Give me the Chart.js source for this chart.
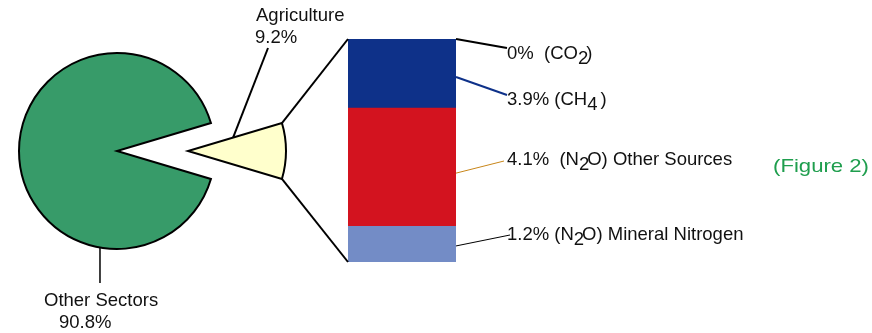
<!DOCTYPE html>
<html>
<head>
<meta charset="utf-8">
<script src="https://cdn.jsdelivr.net/npm/chart.js@4.4.1/dist/chart.umd.min.js"></script>
<style>
  html, body { margin: 0; padding: 0; background: #fff; }
  #wrap { position: relative; width: 872px; height: 333px; }
  #wrap canvas { position: absolute; left: 0; top: 0; }
</style>
</head>
<body>
<div id="wrap">
  <canvas id="pieRest" width="872" height="333"></canvas>
  <canvas id="pieAgri" width="872" height="333"></canvas>
  <canvas id="bar" width="872" height="333"></canvas>
</div>
<script>
// pie: share of total emissions
var sectors = ["Agriculture", "Other Sectors"]
var sectorShare = [9.2, 90.8]

// bar: agriculture broken down by gas, top to bottom
// "_x" marks a subscript character
var gasLabels = ["0%  (CO_2)", "3.9% (CH_4 )", "4.1%  (N_2O) Other Sources", "1.2% (N_2O) Mineral Nitrogen"]
var gasValues = [0, 3.9, 4.1, 1.2]
// segment heights as drawn in the bar (share of the bar, %)
var gasBarShare = [0, 31, 53, 16]

var FONT = '18.5px "Liberation Sans", Arial, sans-serif'
var sectorColors = ["#ffffcc", "#379b69"]
var gasColors = ["#0e3189", "#0e3189", "#d3131f", "#738cc6"]
var leaderColors = ["#000", "#0e3189", "#c8861a", "#000"]
var leaderWidths = [2, 2, 1, 1]
// where each gas leader ends and its label starts
var leaderEnds = [[507, 48], [507, 95], [504, 161], [510, 235]]
var labelPos = [[507, 59], [507, 105], [507, 165], [507, 240]]

// the pulled-out slice is drawn by a second pie shifted to the right,
// each pie only showing its own sector
var PULL = 71
function makePie(id, show, shift) {
  return new Chart(document.getElementById(id), {
    type: "pie",
    data: {
      labels: sectors,
      datasets: [{
        data: sectorShare,
        backgroundColor: sectorColors.map(function (c, i) { return i === show ? c : "rgba(0,0,0,0)" }),
        borderColor: "#000",
        borderWidth: sectors.map(function (_, i) { return i === show ? 2 : 0 }),
        borderJoinStyle: "miter",
      }],
    },
    options: {
      responsive: false,
      animation: false,
      radius: 98,
      // centre the agriculture slice on 3 o'clock
      rotation: 90 - sectorShare[0] * 3.6 / 2,
      layout: { padding: { left: 19 + shift, right: 657 - shift, top: 53, bottom: 84 } },
      plugins: { legend: { display: false }, tooltip: { enabled: false } },
    },
  })
}
var pieRest = makePie("pieRest", 1, 0)
var pieAgri = makePie("pieAgri", 0, PULL)

function drawRich(ctx, str, x, y) {
  str.split(/(_\w)/).forEach(function (p) {
    if (!p) return
    if (p[0] === "_") {
      ctx.fillText(p[1], x, y + 5)
      x += ctx.measureText(p[1]).width * 0.8
    } else {
      ctx.fillText(p, x, y)
      x += ctx.measureText(p).width
    }
  })
}

function line(ctx, x1, y1, x2, y2, color, w) {
  ctx.beginPath()
  ctx.moveTo(x1, y1)
  ctx.lineTo(x2, y2)
  ctx.strokeStyle = color
  ctx.lineWidth = w
  ctx.stroke()
}

var leaders = {
  id: "leaders",
  afterDraw: function (chart) {
    var ctx = chart.ctx
    var agri = pieAgri.getDatasetMeta(0).data[0]
    var other = pieRest.getDatasetMeta(0).data[1]
    var ax = agri.x, ay = agri.y, r = agri.outerRadius
    var c1 = [ax + Math.cos(agri.startAngle) * r, ay + Math.sin(agri.startAngle) * r]
    var c2 = [ax + Math.cos(agri.endAngle) * r, ay + Math.sin(agri.endAngle) * r]

    // datasets are stacked bottom to top, so reverse back to label order
    var n = gasLabels.length
    var segs = []
    for (var i = 0; i < n; i++) segs.push(chart.getDatasetMeta(n - 1 - i).data[0])
    var left = segs[0].x - segs[0].width / 2
    var right = segs[0].x + segs[0].width / 2
    var top = segs[0].y
    var bottom = segs[n - 1].base

    ctx.save()
    ctx.lineCap = "butt"
    line(ctx, c1[0], c1[1], left, top, "#000", 2)
    line(ctx, c2[0], c2[1], left, bottom, "#000", 2)

    // sector leaders
    var px = ax + (c1[0] - ax) * 0.48, py = ay + (c1[1] - ay) * 0.48
    line(ctx, px, py, 268, 48, "#000", 2)
    var a = 100 * Math.PI / 180
    var ox = other.x + Math.cos(a) * other.outerRadius
    var oy = other.y + Math.sin(a) * other.outerRadius
    line(ctx, ox, oy, ox, 283, "#000", 1.5)

    for (i = 0; i < n; i++) {
      var s = segs[i]
      var sy = s.y + (s.base - s.y) * 0.55
      line(ctx, right, sy, leaderEnds[i][0], leaderEnds[i][1], leaderColors[i], leaderWidths[i])
    }

    ctx.font = FONT
    ctx.fillStyle = "#111"
    ctx.textBaseline = "alphabetic"
    ctx.fillText(sectors[0], 256, 21)
    ctx.fillText(sectorShare[0] + "%", 255, 43)
    ctx.fillText(sectors[1], 44, 306)
    ctx.fillText(sectorShare[1] + "%", 59, 328)
    for (i = 0; i < n; i++) drawRich(ctx, gasLabels[i], labelPos[i][0], labelPos[i][1])

    ctx.font = '19px "Liberation Sans", Arial, sans-serif'
    ctx.fillStyle = "#1f9e4e"
    var w = ctx.measureText("(Figure 2)").width
    ctx.translate(773, 172)
    ctx.scale(96 / w, 1)
    ctx.fillText("(Figure 2)", 0, 0)
    ctx.restore()
  },
}

var order = gasLabels.map(function (_, i) { return i }).reverse()
new Chart(document.getElementById("bar"), {
  type: "bar",
  data: {
    labels: ["Agriculture"],
    datasets: order.map(function (i) {
      return {
        label: gasLabels[i],
        data: [gasBarShare[i]],
        backgroundColor: gasColors[i],
        borderWidth: 0,
        barPercentage: 1,
        categoryPercentage: 1,
      }
    }),
  },
  options: {
    responsive: false,
    animation: false,
    layout: { padding: { left: 348, right: 416, top: 39, bottom: 71 } },
    plugins: { legend: { display: false }, tooltip: { enabled: false } },
    scales: {
      x: { display: false, stacked: true },
      y: { display: false, stacked: true, min: 0, max: gasBarShare.reduce(function (s, v) { return s + v }, 0) },
    },
  },
  plugins: [leaders],
})
</script>
</body>
</html>
